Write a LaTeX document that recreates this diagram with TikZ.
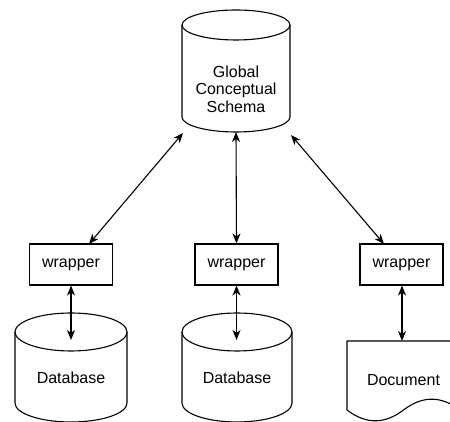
\documentclass[tikz,border=0pt]{standalone}
\usepackage{fontspec}
\setmainfont{Liberation Sans}
\usetikzlibrary{arrows.meta}
\begin{document}
\begin{tikzpicture}[x=1pt,y=1pt,
  shp/.style={draw=black,line width=1.1pt,line join=round},
  lbl/.style={font=\fontsize{16}{17.5}\selectfont,align=center,inner sep=0pt},
  wrapbox/.style={draw=black,line width=1.1pt,minimum width=83pt,minimum height=41pt,inner sep=0pt,font=\fontsize{16}{18}\selectfont},
  link/.style={line width=1.1pt,{Stealth[length=10pt,width=8pt,inset=3pt]}-{Stealth[length=10pt,width=8pt,inset=3pt]}}]
\useasboundingbox (0,0) rectangle (450,422);
\clip (0,0) rectangle (450,422);
% top cylinder
\draw[shp] (182,397) -- (182,305) arc[start angle=180,end angle=360,x radius=54,y radius=15] -- (290,397);
\draw[shp] (236,397) ellipse [x radius=54,y radius=15];
\node[lbl] (gcs) at (236,333) {Global\\Conceptual\\Schema};
% bottom left cylinder
\draw[shp] (15,90) -- (15,19) arc[start angle=180,end angle=360,x radius=56,y radius=19] -- (127,90);
\draw[shp] (71,90) ellipse [x radius=56,y radius=19];
\node[lbl] (db1) at (71,44) {Database};
% bottom middle cylinder
\draw[shp] (182,90) -- (182,19) arc[start angle=180,end angle=360,x radius=55,y radius=19] -- (292,90);
\draw[shp] (237,90) ellipse [x radius=55,y radius=19];
\node[lbl] (db2) at (237,44) {Database};
% document
\draw[shp] (347,12) -- (347,81) -- (460,81) -- (460,12)
  .. controls (441.17,26.4) and (422.33,26.4) .. (403.5,12)
  .. controls (384.67,-2.4) and (365.83,-2.4) .. (347,12) -- cycle;
\node[lbl] (doc) at (403.5,42) {Document};
% wrappers
\node[wrapbox] (w1) at (71,157.5) {wrapper};
\node[wrapbox] (w2) at (236.5,157.5) {wrapper};
\node[wrapbox] (w3) at (401.5,157.5) {wrapper};
% connector ends
\coordinate (gl) at (183,289);
\coordinate (gb) at (236,290);
\coordinate (gr) at (291,287);
\coordinate (w1t) at (89,178);
\coordinate (w3t) at (384,178);
\coordinate (d1t) at (71,82);
\coordinate (d2t) at (236.5,82);
\coordinate (d3t) at (402,81);
\draw[link] (gl) -- (w1t);
\draw[link] (gb) -- (w2.north);
\draw[link] (gr) -- (w3t);
\draw[link] (w1.south) -- (d1t);
\draw[link] (w2.south) -- (d2t);
\draw[link] (w3.south -| d3t) -- (d3t);
\end{tikzpicture}
\end{document}
